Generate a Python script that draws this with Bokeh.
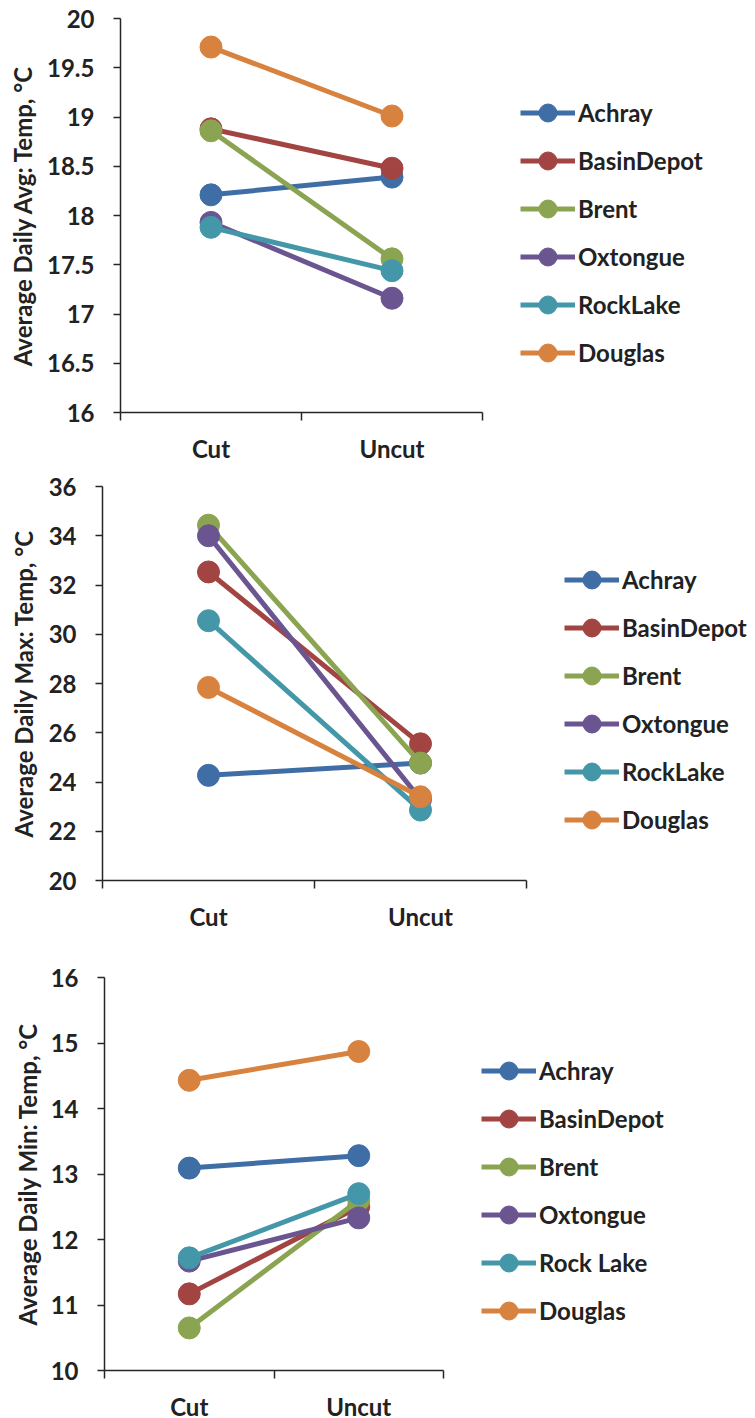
from bokeh.plotting import figure
from bokeh.layouts import column
from bokeh.models import FixedTicker, Legend, LegendItem, ColumnDataSource
from bokeh.embed import file_html
from bokeh.resources import INLINE

categories = ["Cut", "Uncut"]
sites_a = ["Achray", "BasinDepot", "Brent", "Oxtongue", "RockLake", "Douglas"]
sites_b = ["Achray", "BasinDepot", "Brent", "Oxtongue", "Rock Lake", "Douglas"]
colors = ["#3F6DA5", "#A24442", "#8BA451", "#6A5591", "#4397A9", "#D8823F"]

avg_cut = [18.21, 18.88, 18.86, 17.93, 17.88, 19.71]
avg_uncut = [18.39, 18.48, 17.56, 17.16, 17.44, 19.01]
max_cut = [24.27, 32.53, 34.43, 34.00, 30.55, 27.84]
max_uncut = [24.77, 25.55, 24.77, 23.30, 22.86, 23.40]
min_cut = [13.09, 11.17, 10.65, 11.67, 11.72, 14.43]
min_uncut = [13.28, 12.50, 12.60, 12.33, 12.70, 14.87]

avg_ticks = [16, 16.5, 17, 17.5, 18, 18.5, 19, 19.5, 20]
avg_labels = ["16", "16.5", "17", "17.5", "18", "18.5", "19", "19.5", "20"]
max_ticks = [20, 22, 24, 26, 28, 30, 32, 34, 36]
max_labels = ["20", "22", "24", "26", "28", "30", "32", "34", "36"]
min_ticks = [10, 11, 12, 13, 14, 15, 16]
min_labels = ["10", "11", "12", "13", "14", "15", "16"]

ylabel_avg = "Average Daily Avg: Temp, °C"
ylabel_max = "Average Daily Max: Temp, °C"
ylabel_min = "Average Daily Min: Temp, °C"

FONT = "Lato"
TXT = "#222222"
AX = "#262626"


def panel(cut, uncut, names, yticks, ylabels, ylabel, fw, fh, left, right, top, bottom, lx, ly, lab_off):
    xs = [i + 0.5 for i in range(len(categories))]
    p = figure(frame_width=fw, frame_height=fh, min_border_left=left, min_border_right=right,
               min_border_top=top, min_border_bottom=bottom,
               x_range=(0, len(categories)), y_range=(yticks[0], yticks[-1]),
               output_backend="svg", toolbar_location=None)
    p.frame_align = False
    p.outline_line_color = None
    p.xgrid.visible = False
    p.ygrid.visible = False

    items = []
    for i, name in enumerate(names):
        src = ColumnDataSource(dict(x=xs, y=[cut[i], uncut[i]]))
        r1 = p.line("x", "y", source=src, line_color=colors[i], line_width=5)
        r2 = p.scatter("x", "y", source=src, size=22, fill_color=colors[i], line_color=colors[i])
        items.append(LegendItem(label=name, renderers=[r1, r2]))

    xa = p.xaxis[0]
    xa.ticker = FixedTicker(ticks=xs, minor_ticks=list(range(len(categories) + 1)))
    xa.major_label_overrides = {x: c for x, c in zip(xs, categories)}
    xa.major_tick_out = 0
    xa.major_tick_in = 0
    xa.minor_tick_out = 8
    xa.minor_tick_in = 0
    xa.minor_tick_line_color = AX
    xa.minor_tick_line_width = 1.5
    xa.axis_line_color = AX
    xa.axis_line_width = 1.5
    xa.major_label_standoff = 13
    xa.major_label_text_font = FONT
    xa.major_label_text_font_style = "bold"
    xa.major_label_text_font_size = "24px"
    xa.major_label_text_color = TXT

    ya = p.yaxis[0]
    ya.ticker = FixedTicker(ticks=yticks)
    ya.major_label_overrides = {t: l for t, l in zip(yticks, ylabels)}
    ya.major_tick_out = 7
    ya.major_tick_in = 0
    ya.minor_tick_out = 0
    ya.minor_tick_in = 0
    ya.major_tick_line_color = AX
    ya.major_tick_line_width = 1.5
    ya.axis_line_color = AX
    ya.axis_line_width = 1.5
    ya.major_label_standoff = 19
    ya.major_label_text_font = FONT
    ya.major_label_text_font_style = "bold"
    ya.major_label_text_font_size = "24px"
    ya.major_label_text_color = TXT
    ya.axis_label = ylabel
    ya.axis_label_standoff = lab_off
    ya.axis_label_text_font = FONT
    ya.axis_label_text_font_style = "bold"
    ya.axis_label_text_font_size = "24px"
    ya.axis_label_text_color = TXT

    leg = Legend(items=items, location=(lx, ly), glyph_width=55, glyph_height=45,
                 spacing=3, padding=0, margin=0, label_standoff=3,
                 border_line_color=None, background_fill_alpha=0,
                 label_text_font=FONT, label_text_font_style="bold",
                 label_text_font_size="24px", label_text_color=TXT)
    p.add_layout(leg, "right")
    return p


p1 = panel(avg_cut, avg_uncut, sites_a, avg_ticks, avg_labels, ylabel_avg,
           362, 394, 120, 273, 18, 58, 38, 37, 7)
p2 = panel(max_cut, max_uncut, sites_a, max_ticks, max_labels, ylabel_max,
           424, 394, 102, 229, 16, 70, 38, 38, 8)
p3 = panel(min_cut, min_uncut, sites_b, min_ticks, min_labels, ylabel_min,
           339, 393, 104, 312, 27, 48, 38, 37, 6)

layout = column(p1, p2, p3, spacing=0)
open("out.html", "w").write(file_html(layout, INLINE))
